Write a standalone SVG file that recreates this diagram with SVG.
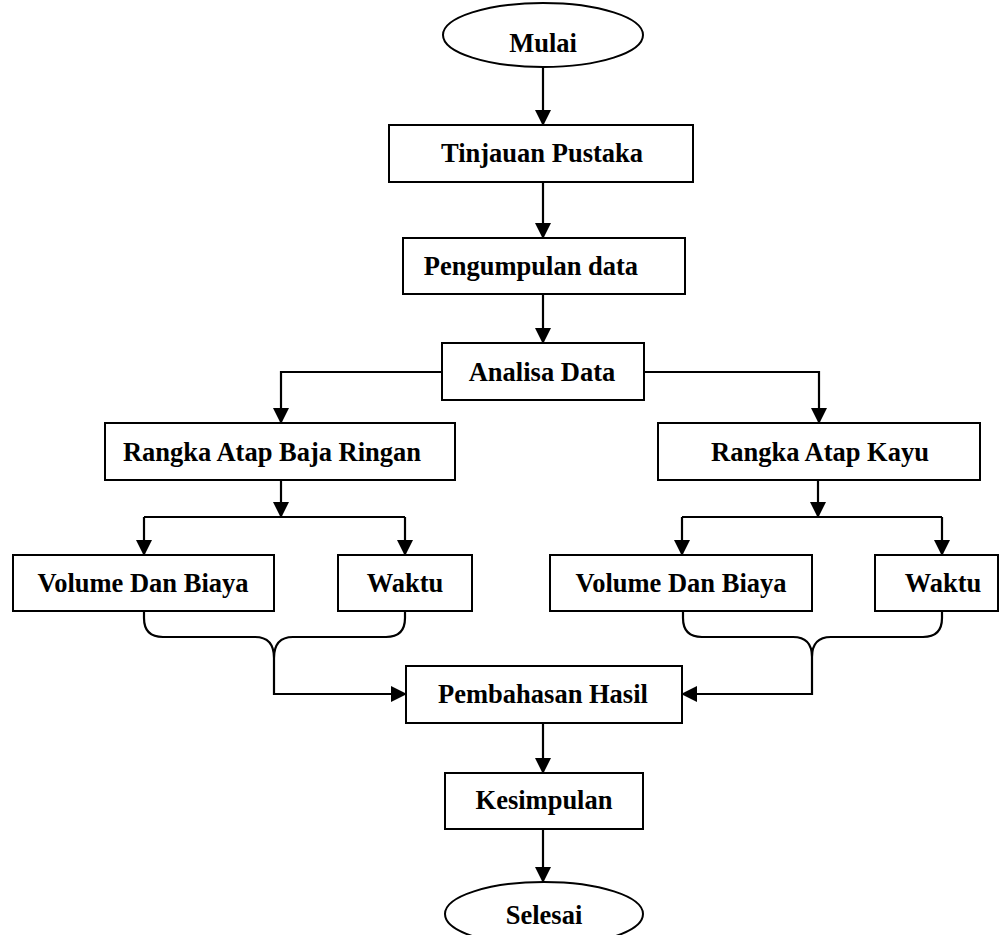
<svg xmlns="http://www.w3.org/2000/svg" width="1000" height="935" viewBox="0 0 1000 935">
<defs>
<marker id="arr" markerUnits="userSpaceOnUse" markerWidth="16" markerHeight="16" refX="15" refY="8" orient="auto">
<path d="M0,0 L16,8 L0,16 Z" fill="#000"/>
</marker>
<style>
.box{fill:#fff;stroke:#000;stroke-width:2}
.t{font-family:"Liberation Serif","Times New Roman",serif;font-weight:bold;font-size:26.5px;fill:#000;text-anchor:middle}
.c{fill:none;stroke:#000;stroke-width:2.2}
.a{marker-end:url(#arr)}
</style>
</defs>
<rect width="1000" height="935" fill="#fff"/>
<g id="connectors">
<path class="c a" d="M543,67 V125"/>
<path class="c a" d="M543,182 V238"/>
<path class="c a" d="M543,294 V343"/>
<path class="c a" d="M442,372 H281 V423"/>
<path class="c a" d="M644,372 H819 V423"/>
<path class="c a" d="M281,480 V517"/>
<path class="c" d="M144,517 H405"/>
<path class="c a" d="M144,517 V555"/>
<path class="c a" d="M405,517 V555"/>
<path class="c a" d="M818,480 V517"/>
<path class="c" d="M682,517 H942"/>
<path class="c a" d="M682,517 V555"/>
<path class="c a" d="M942,517 V555"/>
<path class="c" d="M144,611 V618 Q144,637 163,637 H255 Q274,637 274,658 Q274,637 293,637 H386 Q405,637 405,618 V611"/>
<path class="c a" d="M274,658 V694 H406"/>
<path class="c" d="M683,611 V618 Q683,637 702,637 H793 Q812,637 812,657 Q812,637 831,637 H923 Q942,637 942,618 V611"/>
<path class="c a" d="M812,657 V694 H682"/>
<path class="c a" d="M543,723 V773"/>
<path class="c a" d="M543,829 V882"/>
</g>
<g id="mulai"><ellipse cx="543" cy="35" rx="100" ry="32" class="box"/><text x="543" y="52" class="t">Mulai</text></g>
<g id="tinjauan"><rect x="389" y="125" width="304" height="57" class="box"/><text x="542" y="162" class="t">Tinjauan Pustaka</text></g>
<g id="pengumpulan"><rect x="403" y="238" width="282" height="56" class="box"/><text x="531" y="275" class="t">Pengumpulan data</text></g>
<g id="analisa"><rect x="442" y="343" width="202" height="57" class="box"/><text x="542" y="381" class="t">Analisa Data</text></g>
<g id="baja"><rect x="105" y="423" width="350" height="57" class="box"/><text x="272" y="461" class="t">Rangka Atap Baja Ringan</text></g>
<g id="kayu"><rect x="658" y="423" width="322" height="57" class="box"/><text x="820" y="461" class="t">Rangka Atap Kayu</text></g>
<g id="volume1"><rect x="13" y="555" width="261" height="56" class="box"/><text x="143" y="592" class="t">Volume Dan Biaya</text></g>
<g id="waktu1"><rect x="338" y="555" width="134" height="56" class="box"/><text x="405" y="592" class="t">Waktu</text></g>
<g id="volume2"><rect x="550" y="555" width="262" height="56" class="box"/><text x="681" y="592" class="t">Volume Dan Biaya</text></g>
<g id="waktu2"><rect x="875" y="555" width="123" height="56" class="box"/><text x="943" y="592" class="t">Waktu</text></g>
<g id="pembahasan"><rect x="406" y="666" width="276" height="57" class="box"/><text x="543" y="703" class="t">Pembahasan Hasil</text></g>
<g id="kesimpulan"><rect x="445" y="773" width="198" height="56" class="box"/><text x="544" y="809" class="t">Kesimpulan</text></g>
<g id="selesai"><ellipse cx="544" cy="914" rx="99" ry="32" class="box"/><text x="544" y="924" class="t">Selesai</text></g>
</svg>
